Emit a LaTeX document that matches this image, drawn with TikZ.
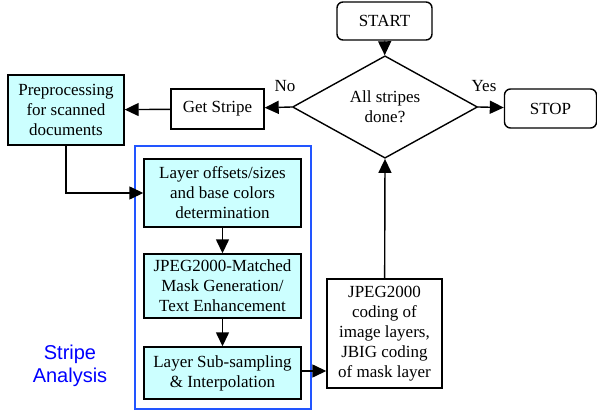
\documentclass[tikz,border=0pt]{standalone}
\usepackage{fontspec}
\setmainfont{Liberation Serif}
\newfontfamily\labelfont{Liberation Sans}
\usetikzlibrary{arrows.meta,shapes.geometric}

\definecolor{boxcyan}{HTML}{CCFFFF}
\definecolor{framblue}{HTML}{2255FF}

\tikzset{
   every node/.style = {font=\fontsize{17}{20}\selectfont, align=center},
   StepBox/.style = {draw, line width=1.4pt, inner sep=0pt},
   CyanBox/.style = {StepBox, fill=boxcyan},
   EndBox/.style  = {StepBox, rounded corners=6pt},
   Flow/.style    = {line width=1.4pt, -{Triangle[length=14pt,width=13pt]}}
}

\begin{document}
\begin{tikzpicture}[x=1pt,y=-1pt]
   \useasboundingbox (0,0) rectangle (597,412);
   \draw[framblue, line width=1.2pt] (135,146) rectangle (311,409);
   \node[EndBox, minimum width=95, minimum height=38] (START) at (384.5,21) {START};
   \node[StepBox, diamond, minimum width=185, minimum height=90] (DONE) at (385,107) {All stripes\\done?};
   \node[EndBox, minimum width=92, minimum height=39] (STOP) at (550.5,108.5) {STOP};
   \node[StepBox, minimum width=93, minimum height=40] (GET) at (217.5,109) {Get Stripe};
   \node[CyanBox, minimum width=116, minimum height=70] (PRE) at (66,110) {Preprocessing\\for scanned\\documents};
   \node[CyanBox, minimum width=157, minimum height=68] (OFF) at (222.5,193) {Layer offsets/sizes\\and base colors\\determination};
   \node[CyanBox, minimum width=157, minimum height=64] (MASK) at (222.5,286) {JPEG2000-Matched\\Mask Generation/\\Text Enhancement};
   \node[CyanBox, minimum width=157, minimum height=52] (SUB) at (222.5,373) {Layer Sub-sampling\\\& Interpolation};
   \node[StepBox, minimum width=115, minimum height=109] (CODE) at (384.5,333.5) {JPEG2000\\coding of\\image layers,\\JBIG coding\\of mask layer};
   \node[font=\labelfont\fontsize{20}{23}\selectfont, text=blue] (SA) at (70,366) {Stripe\\Analysis};
   \node (NO)  at (285,86) {No};
   \node (YES) at (484,86) {Yes};
   \draw[Flow] (START) -- (DONE);
   \draw[Flow] (DONE.east) -- (STOP);
   \draw[Flow] (DONE.west) -- (GET);
   \draw[Flow] (GET) -- (PRE);
   \draw[Flow] (PRE.south) |- (OFF.west);
   \draw[Flow] (OFF) -- (MASK);
   \draw[Flow] (MASK) -- (SUB);
   \draw[Flow] ([yshift=2pt]SUB.east) -- ([yshift=2pt]SUB.east -| CODE.west);
   \draw[Flow] (CODE) -- (DONE.south);
\end{tikzpicture}
\end{document}
